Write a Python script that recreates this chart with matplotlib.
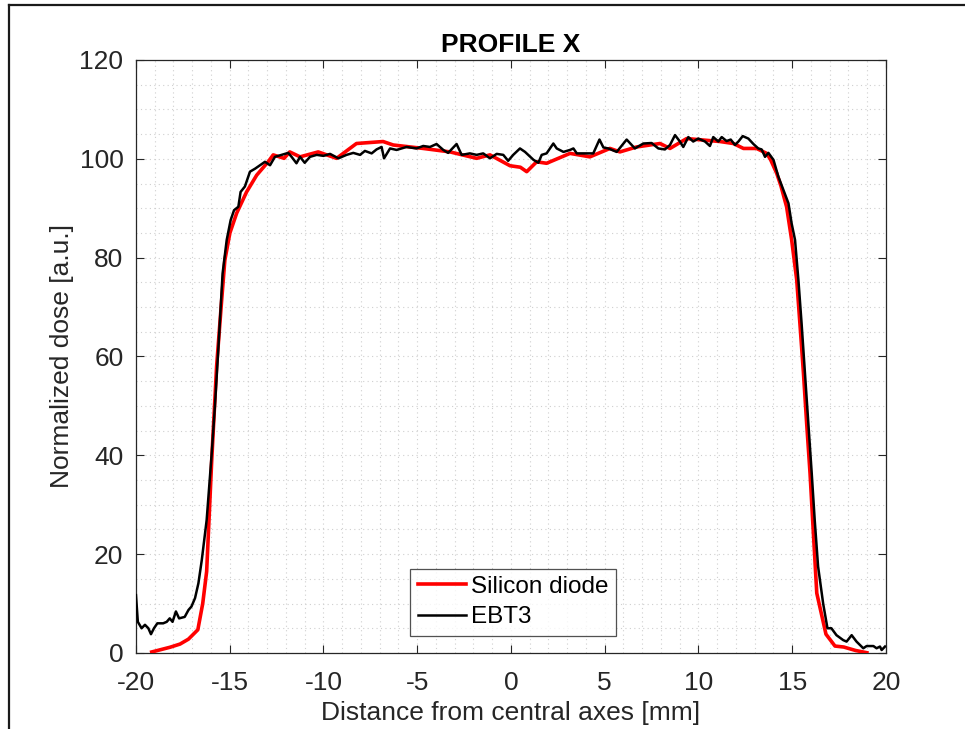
import numpy as np
import matplotlib
matplotlib.use("Agg")
import matplotlib.pyplot as plt
from matplotlib.lines import Line2D

plt.rcParams['font.family'] = ['Liberation Sans', 'DejaVu Sans']
plt.rcParams['axes.unicode_minus'] = False

# silicon diode profile (coarser sampling)
diode_x = [-19.16, -18.19, -17.65, -17.2, -16.7, -16.44, -16.23, -15.96, -15.7, -15.43,
           -15.26, -14.99, -14.63, -14.1, -13.56, -12.95, -12.68, -12.1, -11.8, -11.25,
           -10.28, -9.3, -8.24, -6.82, -6.28, -4.68, -3.25, -1.83, -1.12, -0.05,
           0.5, 0.84, 1.37, 1.9, 3.15, 4.21, 5.28, 5.81, 6.7, 7.95,
           8.48, 9.37, 11.15, 11.86, 12.4, 13.1, 13.64, 13.85, 14.17, 14.4,
           14.7, 14.97, 15.24, 15.41, 15.6, 15.77, 15.95, 16.09, 16.31, 16.8,
           17.28, 17.75, 18.38, 18.98]
diode_y = [0.2, 1.15, 1.8, 2.8, 4.7, 10.0, 16.5, 39.0, 58.0, 71.4,
           79.5, 85.0, 89.0, 93.3, 96.7, 99.4, 100.8, 100.1, 101.4, 100.4,
           101.4, 100.1, 103.1, 103.5, 102.8, 102.1, 101.4, 100.1, 100.8, 98.6,
           98.3, 97.4, 99.4, 99.1, 101.1, 100.4, 102.1, 101.4, 102.4, 103.1,
           102.1, 104.1, 103.5, 103.1, 102.1, 102.1, 101.1, 99.8, 97.1, 94.5,
           90.3, 83.6, 75.5, 66.7, 56.6, 46.5, 36.4, 26.9, 12.1, 3.8,
           1.4, 1.2, 0.5, 0.05]

# EBT3 film profile
ebt3_x = [-20.0, -19.9, -19.7, -19.52, -19.34, -19.2, -19.04, -18.86, -18.55, -18.36,
          -18.2, -18.05, -17.87, -17.7, -17.4, -17.2, -17.04, -16.85, -16.67, -16.49,
          -16.23, -15.96, -15.79, -15.6, -15.38, -15.16, -14.95, -14.77, -14.54, -14.42,
          -14.19, -13.92, -13.65, -13.39, -13.12, -12.85, -12.59, -12.24, -11.88, -11.7,
          -11.44, -11.25, -11.0, -10.72, -10.36, -10.0, -9.65, -9.2, -8.77, -8.41,
          -8.05, -7.79, -7.43, -7.17, -6.9, -6.77, -6.45, -6.1, -5.57, -5.04,
          -4.68, -4.32, -3.97, -3.61, -3.35, -2.9, -2.63, -2.19, -1.83, -1.48,
          -1.12, -0.76, -0.41, -0.15, 0.12, 0.48, 0.75, 1.2, 1.46, 1.64,
          1.9, 2.08, 2.26, 2.44, 2.8, 3.15, 3.33, 3.51, 4.04, 4.39,
          4.72, 4.93, 5.19, 5.64, 6.17, 6.61, 7.06, 7.5, 7.86, 8.21,
          8.48, 8.75, 9.01, 9.19, 9.46, 9.72, 9.99, 10.35, 10.61, 10.79,
          11.06, 11.24, 11.5, 11.72, 11.95, 12.13, 12.36, 12.66, 12.93, 13.19,
          13.37, 13.55, 13.73, 14.0, 14.26, 14.53, 14.8, 14.97, 15.15, 15.33,
          15.5, 15.68, 15.86, 16.04, 16.2, 16.38, 16.65, 16.88, 17.09, 17.36,
          17.72, 17.9, 18.17, 18.43, 18.79, 18.97, 19.33, 19.5, 19.68, 19.77,
          19.95]
ebt3_y = [11.7, 6.3, 5.0, 5.7, 5.0, 3.8, 5.0, 6.0, 6.0, 6.3,
          7.0, 6.3, 8.4, 7.0, 7.3, 8.7, 9.4, 11.1, 14.1, 18.8,
          26.9, 40.4, 49.9, 62.0, 76.8, 83.6, 87.6, 89.6, 90.3, 93.3,
          94.4, 97.4, 98.0, 98.7, 99.4, 98.7, 100.4, 100.8, 101.2, 100.4,
          99.1, 100.4, 99.2, 100.4, 100.8, 100.6, 101.0, 100.1, 100.8, 101.2,
          100.8, 101.6, 101.1, 101.9, 102.4, 100.1, 102.1, 101.8, 102.4, 102.1,
          102.6, 102.4, 103.0, 101.8, 101.2, 103.0, 100.8, 101.1, 100.8, 101.1,
          100.1, 101.0, 100.8, 99.6, 100.8, 102.1, 101.4, 99.8, 99.2, 100.8,
          101.1, 102.1, 103.1, 102.1, 101.4, 101.8, 102.1, 101.1, 101.1, 101.1,
          103.9, 102.3, 102.1, 101.4, 103.9, 102.1, 103.1, 103.2, 102.1, 101.9,
          102.8, 104.8, 103.5, 102.4, 104.4, 103.5, 104.1, 103.5, 102.6, 104.4,
          103.5, 104.4, 103.6, 103.9, 102.8, 103.5, 104.6, 104.1, 103.0, 102.1,
          101.9, 100.4, 101.2, 99.8, 96.4, 93.7, 91.0, 86.9, 83.6, 75.5,
          66.7, 56.6, 46.5, 36.4, 26.9, 17.5, 10.0, 5.0, 5.0, 3.6,
          2.6, 2.3, 3.6, 2.3, 0.95, 1.4, 1.4, 0.95, 1.3, 0.6,
          1.3]

txt = '#262626'

fig = plt.figure(figsize=(9.65, 7.29), dpi=100)
ax = fig.add_axes([0.1409, 0.1043, 0.7772, 0.8134])

ax.plot(diode_x, diode_y, color='#ff0000', lw=2.6, label='Silicon diode', zorder=3)
ax.plot(ebt3_x, ebt3_y, color='black', lw=1.8, label='EBT3', zorder=4)

ax.set_xlim(-20, 20)
ax.set_ylim(0, 120)
ax.set_xticks(np.arange(-20, 21, 5))
ax.set_yticks(np.arange(0, 121, 20))
ax.set_xticks(np.arange(-20, 21, 1), minor=True)
ax.set_yticks(np.arange(0, 121, 5), minor=True)
ax.grid(which='both', linestyle=(0, (1, 3)), color='#cfcfcf', lw=0.8)
ax.set_axisbelow(True)

ax.tick_params(which='major', direction='in', length=6, width=0.8, colors=txt,
               labelsize=19, top=True, right=True)
ax.tick_params(which='minor', length=0, top=True, right=True)
ax.tick_params(axis='x', pad=13)
ax.tick_params(axis='y', pad=9)
for s in ax.spines.values():
    s.set_color(txt)
    s.set_linewidth(0.9)

ax.set_title('PROFILE X', fontsize=19, fontweight='bold', color='black', pad=6)
ax.set_xlabel('Distance from central axes [mm]', fontsize=19, color=txt, labelpad=4)
ax.set_ylabel('Normalized dose [a.u.]', fontsize=19, color=txt, labelpad=4)

leg = ax.legend(loc='lower left', bbox_to_anchor=(0.366, 0.029), fontsize=17.5,
                frameon=True, fancybox=False, handlelength=2.0, borderpad=0.3,
                labelspacing=0.35, handletextpad=0.2, borderaxespad=0)
leg.get_frame().set_edgecolor('#262626')
leg.get_frame().set_linewidth(0.9)
for t in leg.get_texts():
    t.set_color('black')

# outer frame around the figure
fig.add_artist(Line2D([0.0093, 0.0093], [0.0, 0.9931], color='#1a1a1a', lw=1.6,
                      transform=fig.transFigure))
fig.add_artist(Line2D([0.0093, 1.0], [0.9931, 0.9931], color='#1a1a1a', lw=1.6,
                      transform=fig.transFigure))

fig.savefig('out.png', dpi=100)
